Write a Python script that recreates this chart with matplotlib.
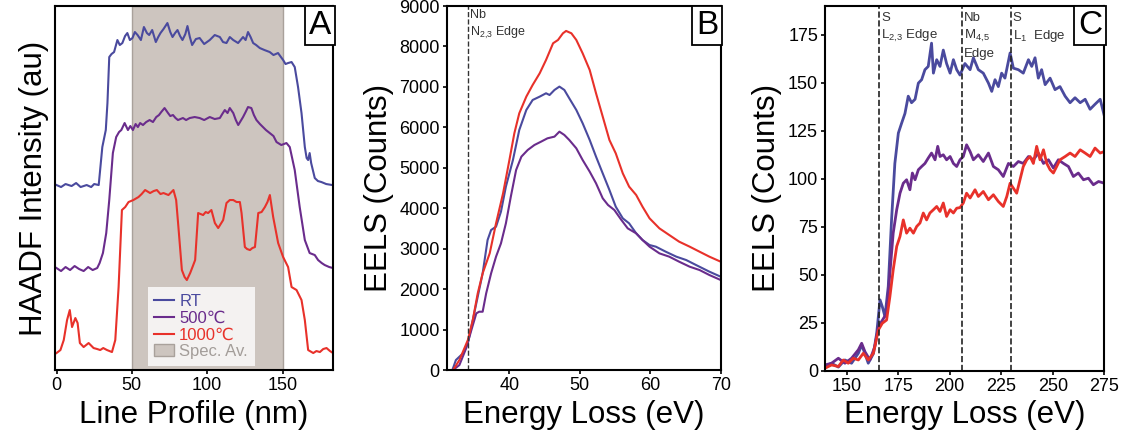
import numpy as np
import matplotlib
matplotlib.use("Agg")
import matplotlib.pyplot as plt

plt.rcParams['font.family'] = ['Liberation Sans', 'DejaVu Sans']
plt.rcParams['mathtext.fontset'] = 'custom'
plt.rcParams['mathtext.rm'] = 'Liberation Sans'

# ---- Panel A: HAADF line profiles (au) ----
a_rt_x = [0, 3, 6, 10, 13, 16, 20, 23, 25, 28, 30.4, 32.7, 33.8, 35, 36.5, 38.2, 40.4, 42, 43.7, 45.5, 47,
          48.7, 50.4, 52, 53.8, 56, 58, 60, 61.5, 63.5, 65.9, 67.5, 69, 71, 73.6, 75.5, 77, 78.7, 80.3, 82,
          83.6, 85.5, 86.9, 88.5, 90, 92.5, 95, 98, 101.7, 105, 108.4, 110.5, 112.8, 115, 117.3, 120.5,
          123.8, 125.5, 127.1, 128.8, 130.5, 132.5, 134.9, 138, 141.5, 144, 147, 150.4, 152, 153.7, 156,
          158.1, 160.3, 162.6, 164.8, 166, 167, 168, 169, 171.4, 173.5, 175.8, 179, 183]
a_rt_y = [185, 183, 186, 184, 187, 183, 185, 183, 186, 185, 223, 240, 267, 313, 316, 318, 330, 325, 327, 334, 337,
          330, 332, 338, 335, 330, 343, 337, 335, 340, 328, 333, 337, 341, 347, 338, 333, 337, 340, 334,
          330, 336, 344, 333, 325, 331, 332, 326, 330, 335, 333, 328, 327, 333, 330, 327,
          333, 330, 338, 333, 327, 325, 322, 320, 318, 315, 317, 310, 306, 307, 308,
          303, 283, 257, 223, 212, 210, 217, 207, 192, 189, 188, 186, 185]

a_500_x = [0, 3, 6, 9, 12, 15, 18, 21, 24, 27, 28.6, 30.8, 33, 35, 37.4, 39.6, 41.5, 43, 45.2, 47.4, 49,
           50.7, 52.5, 54, 55.5, 57.4, 59.5, 61.8, 64, 66.2, 68, 69.5, 71.7, 74, 75.5, 77.3, 79, 80.6,
           83.9, 86, 88.4, 91.7, 95, 98, 101.7, 105, 108.4, 110, 111.7, 113.5, 115, 117.3, 119, 120.6,
           123.8, 125.5, 127.1, 129.3, 131, 132.7, 135, 137, 139, 141.5, 144, 146, 149.2, 152.6, 154.8,
           158.1, 161.4, 164.8, 168, 171.4, 173.6, 176, 178, 181, 183.5]
a_500_y = [102, 99, 103, 100, 104, 101, 99, 103, 100, 102, 107, 117, 137, 170, 217, 233, 238, 240, 247, 240, 244,
           240, 246, 243, 247, 245, 248, 250, 248, 253, 255, 258, 262, 257, 254, 255, 252, 250,
           252, 250, 252, 253, 252, 250, 253, 251, 252, 256, 260, 257, 262, 257, 250, 245,
           253, 258, 263, 262, 255, 250, 246, 243, 240, 237, 234, 228, 225, 227, 223,
           200, 163, 130, 117, 115, 110, 107, 105, 103, 102]

a_1000_x = [0, 2.6, 4.8, 7, 8.8, 10.3, 12.5, 14, 15.5, 18, 21.3, 24.6, 27, 29, 31, 33.5, 36.8, 39, 41.2,
            43.4, 45.6, 47.8, 51, 54.4, 56.5, 58.8, 62.1, 64.5, 66.6, 69, 71, 74.3, 77.6, 79.4, 80.9, 83.2,
            85, 86.5, 88.7, 90.5, 92, 94, 97.3, 99, 100.6, 102.8, 105.1, 107.3, 110.6, 112.8, 115, 117.3,
            119.5, 121.7, 122.8, 125, 126.5, 128.4, 130, 131.7, 133.9, 136.1, 138.3, 140, 141.6, 143.8,
            147.1, 150.4, 153.7, 156, 159.3, 162.6, 164.8, 167, 170.4, 172.5, 174.8, 177, 179.2, 181.5, 183.5]
a_1000_y = [17, 20, 30, 50, 60, 43, 52, 47, 27, 23, 27, 22, 21, 20, 22, 20, 18, 30, 83,
            160, 163, 168, 170, 173, 176, 180, 177, 179, 180, 176, 177, 175, 180, 170, 143, 100,
            93, 90, 97, 104, 110, 157, 155, 158, 157, 160, 147, 142, 150, 167, 170, 170,
            168, 168, 157, 123, 121, 120, 122, 123, 157, 158, 163, 168, 175, 153,
            127, 113, 103, 83, 80, 70, 50, 20, 17, 19, 18, 21, 22, 19, 17]

# ---- Panel B: Nb N2,3 edge EELS (counts) ----
b_rt_x = [31.9, 32.4, 33.4, 34.1, 34.8, 35.5, 36.2, 36.9, 37.4, 38.1, 38.8, 39.5, 40.5, 41.4, 42.4, 43.3,
          44.3, 45.2, 45.7, 46.4, 47.1, 47.8, 48.5, 49.5, 50.4, 51.4, 52.3, 53.25, 54.2, 55.1, 56.1, 57.0,
          58.0, 58.9, 59.9, 60.8, 62.2, 63.7, 65.1, 66.5, 68.4, 70]
b_rt_y = [0, 247, 412, 660, 1237, 1814, 2391, 3215, 3462, 3545, 3916, 4534, 5193, 5935, 6430, 6677,
          6760, 6843, 6800, 6925, 7008, 6925, 6719, 6430, 6101, 5688, 5276, 4863, 4452, 4039, 3751, 3627,
          3380, 3215, 3091, 3050, 2926, 2803, 2720, 2597, 2432, 2308]
b_500_x = [32.0, 32.9, 33.85, 34.6, 35.3, 35.7, 36.2, 36.7, 37.4, 38.1, 38.8, 39.5, 40.2, 40.95, 41.7,
           42.6, 43.55, 44.5, 45.4, 46.4, 47.1, 47.8, 48.5, 49.5, 50.4, 51.4, 52.3, 53.25, 54.0, 54.9,
           55.9, 56.8, 58.0, 58.9, 59.9, 61.3, 62.7, 64.1, 65.6, 67.0, 68.4, 70]
b_500_y = [0, 124, 536, 989, 1401, 1442, 1442, 1896, 2391, 2803, 3132, 3627, 4287, 4946, 5276,
           5441, 5564, 5647, 5729, 5771, 5894, 5812, 5688, 5482, 5193, 4905, 4617, 4246, 4081, 3957,
           3710, 3503, 3380, 3215, 3050, 2885, 2803, 2679, 2555, 2473, 2349, 2226]
b_1000_x = [32.0, 32.9, 34.1, 34.8, 35.5, 36.2, 37.2, 38.1, 39.1, 40.0, 40.7, 41.4, 42.4, 43.3, 44.3,
            45.2, 46.2, 46.9, 47.6, 48.05, 48.8, 49.5, 50.4, 51.4, 52.3, 53.25, 54.2, 55.1, 56.1, 57.0,
            58.0, 58.9, 59.9, 61.3, 62.7, 64.1, 65.6, 67.0, 68.4, 70]
b_1000_y = [0, 247, 742, 1237, 1896, 2391, 2885, 3627, 4369, 5193, 5853, 6348, 6760, 7048, 7337,
            7666, 8079, 8161, 8326, 8384, 8326, 8161, 7831, 7419, 6843, 6266, 5688, 5358, 4863, 4534,
            4328, 4039, 3751, 3503, 3338, 3174, 3050, 2926, 2803, 2679]

# ---- Panel C: S L edges / Nb M4,5 EELS (counts) ----
c_rt_x = [139.5, 142.7, 146, 149.2, 152.4, 155.7, 157.3, 158.9, 160.5, 163, 164.6, 166.2, 167.3, 168.6,
          170.2, 171.8, 173.4, 175.1, 176.7, 178.3, 179.9, 181.5, 183.2, 184.8, 186.4, 188, 189.6, 191.2,
          192.1, 193.7, 195.3, 196.9, 198.5, 200.2, 201.8, 203.4, 205, 207.4, 209.9, 211.5, 213.9, 216.3,
          218.8, 220.4, 222, 223.6, 225.2, 226.8, 229.3, 230.9, 233.3, 235.7, 238.2, 239.8, 241.4, 243,
          244.6, 246.3, 248.7, 251.1, 253.5, 256, 258.4, 260.8, 263.3, 265.7, 268.1, 270.5, 273, 275]
c_rt_y = [2.3, 4, 2, 5.7, 4, 9.2, 13.5, 9, 4, 9, 19.6, 37, 33.5, 28.3,
          44, 78.6, 108, 123.8, 129, 134, 143, 139.6, 141.4, 149.8, 151.6, 156.8, 158.5, 170.6,
          155, 162, 158.5, 167, 160, 155, 162, 156.8, 154, 160, 156.8, 163, 156.8, 155,
          149.8, 145.5, 151.6, 148, 155, 152.4, 165.5, 157.6, 156.8, 155, 162, 158.5, 163, 152.4,
          156.8, 149, 152.4, 146.4, 148, 143, 139.6, 142.2, 139.6, 141.4, 136.2, 138.8, 141.4, 132.8]
c_500_x = [139.5, 142.7, 146, 149.2, 152.4, 155.7, 157.3, 158.9, 161.3, 163.7, 165.4, 167.3, 169.4, 171,
           172.6, 174.3, 175.9, 177.5, 179.1, 180.7, 181.9, 183.2, 184.8, 186.4, 188, 189.6, 191.2, 192.9,
           194.2, 195.3, 196.9, 198.5, 200.2, 201.8, 203.4, 205, 206.6, 208.2, 209.9, 211.5, 213.9, 216.3,
           218.8, 221.2, 223.6, 226, 228.5, 230.9, 233.3, 235.7, 238.2, 240.6, 243, 245.5, 247.9, 250.3,
           252.7, 255.2, 257.6, 260, 262.4, 264.9, 267.3, 269.7, 272.2, 275]
c_500_y = [3.1, 4, 6.6, 4, 6.6, 11, 14.4, 10, 5.7, 12.7, 23, 26.3, 30, 50.9,
           71.7, 83.9, 92.5, 97.7, 99.5, 94.3, 103, 99.5, 104.7, 106.4, 108, 110.8, 113.4, 109.9,
           116.9, 111.6, 112.5, 109.9, 111.6, 108, 106.4, 109.9, 111.6, 117.7, 114.2, 109.9, 112.5, 109,
           113.4, 106.4, 104.7, 101.2, 108, 106.4, 109, 108, 111.6, 109.9, 113.4, 108, 109.9, 105.6,
           109.9, 108, 106.4, 101.2, 103, 99.5, 100.3, 96.9, 98.6, 97.7]
c_1000_x = [139.5, 142.7, 146, 148.4, 150.8, 153.2, 155.7, 158.1, 160.5, 163, 165.4, 167.3, 169.4, 171,
            172.6, 174.3, 175.9, 177.5, 179.1, 180.7, 182.4, 184, 185.6, 187.2, 188.8, 190.4, 192.1, 193.7,
            195.3, 196.9, 198.5, 200.2, 201.8, 203.4, 205, 206.6, 208.2, 209.9, 212.3, 213.9, 216.3, 218.8,
            221.2, 223.6, 226, 227.7, 229.3, 230.9, 232.5, 234.1, 235.7, 237.4, 239, 240.6, 242.2, 243.8,
            245.5, 247.1, 248.7, 250.3, 251.9, 253.5, 256, 258.4, 260.8, 263.3, 265.7, 268.1, 270.5, 273, 275]
c_1000_y = [1.4, 3.1, 2.3, 5.7, 4, 6.6, 5.7, 9.2, 5.7, 9.2, 21.3, 24.8, 26.5, 38.7,
            52.6, 64.8, 70, 78.6, 71.7, 74.3, 71.7, 75.2, 77, 82.2, 78.6, 82.2, 83.9, 85.6,
            83, 87.4, 80.4, 83.9, 82.2, 84.7, 85, 87.4, 92.5, 90, 94.3, 90.8, 93.4, 89.1,
            91.7, 88.2, 85.6, 90.8, 97.7, 95.1, 92.5, 99.5, 106.4, 109.9, 111.6, 108, 116.9, 109.9,
            115.1, 108, 104.7, 103, 106.4, 109.9, 111.6, 113.4, 111.6, 115.1, 113.4, 111.6, 116, 113.4, 114.2]

labels = ['RT', '500\u2103', '1000\u2103']
colors = ['#4a4a9e', '#6a2c8c', '#e8312a']
b_edge = 34.1
c_edges = [165.8, 205.8, 229.6]

fig = plt.figure(figsize=(11.25, 4.4), dpi=100)
axA = fig.add_axes([0.0489, 0.159, 0.2471, 0.8273])
axB = fig.add_axes([0.3971, 0.159, 0.2435, 0.8273])
axC = fig.add_axes([0.7333, 0.157, 0.2483, 0.8296])

for ax in (axA, axB, axC):
    for s in ax.spines.values():
        s.set_linewidth(1.5)
    ax.tick_params(direction='out', length=3, width=1.2, labelsize=13, pad=2)

# Panel A
span = axA.axvspan(50, 150, facecolor='#cdc5bf', edgecolor='#a9a19b', lw=1, label='Spec. Av.')
axA.plot(a_rt_x, a_rt_y, color=colors[0], lw=1.5, label=labels[0])
axA.plot(a_500_x, a_500_y, color=colors[1], lw=1.5, label=labels[1])
axA.plot(a_1000_x, a_1000_y, color=colors[2], lw=1.5, label=labels[2])
axA.set_xlim(-1, 183.5)
axA.set_ylim(0, 364)
axA.set_yticks([])
axA.set_xticks([0, 50, 100, 150])
axA.set_xlabel('Line Profile (nm)', fontsize=22.5)
axA.set_ylabel('HAADF Intensity (au)', fontsize=22.5)
h, l = axA.get_legend_handles_labels()
order = [1, 2, 3, 0]
leg = axA.legend([h[i] for i in order], [l[i] for i in order], loc='lower left',
                 bbox_to_anchor=(0.333, 0.012), borderaxespad=0, fontsize=12,
                 labelspacing=0.1, handlelength=1.2, handletextpad=0.3,
                 fancybox=False, framealpha=0.9, facecolor='#f9f8f7', edgecolor='none')
for t, c in zip(leg.get_texts(), colors + ['#a39d99']):
    t.set_color(c)

# Panel B
axB.plot(b_rt_x, b_rt_y, color=colors[0], lw=1.5)
axB.plot(b_500_x, b_500_y, color=colors[1], lw=1.5)
axB.plot(b_1000_x, b_1000_y, color=colors[2], lw=1.5)
axB.axvline(b_edge, color='#333333', ls='--', lw=1)
axB.set_xlim(31.1, 70)
axB.set_ylim(0, 9000)
axB.set_xticks([40, 50, 60, 70])
axB.set_yticks(range(0, 9001, 1000))
axB.set_xlabel('Energy Loss (eV)', fontsize=22.5)
axB.set_ylabel('EELS (Counts)', fontsize=22.5)
axB.text(b_edge + 0.3, 8930, 'Nb\nN$_{2,\\!3}$ Edge', fontsize=9, va='top', color='#333333', linespacing=1.4)

# Panel C
axC.plot(c_rt_x, c_rt_y, color=colors[0], lw=2)
axC.plot(c_500_x, c_500_y, color=colors[1], lw=2)
axC.plot(c_1000_x, c_1000_y, color=colors[2], lw=2)
for e in c_edges:
    axC.axvline(e, color='#222222', ls='--', lw=1.2)
axC.set_xlim(139.5, 275)
axC.set_ylim(0, 190)
axC.set_xticks(range(150, 276, 25))
axC.set_yticks(range(0, 176, 25))
axC.set_xlabel('Energy Loss (eV)', fontsize=22.5)
axC.set_ylabel('EELS (Counts)', fontsize=22.5)
edge_txt = ['S\nL$_{2,\\!3}$ Edge', 'Nb\nM$_{4,\\!5}$\nEdge', 'S\nL$_{1}$  Edge']
for e, t in zip(c_edges, edge_txt):
    axC.text(e + 1.0, 187, t, fontsize=9.5, va='top', color='#333333', linespacing=1.4)

for ax, lab in zip((axA, axB, axC), 'ABC'):
    ax.text(0.992, 0.988, lab, transform=ax.transAxes, ha='right', va='top', fontsize=24,
            bbox=dict(boxstyle='square,pad=0.12', fc='white', ec='black', lw=1.3), zorder=5)

fig.savefig('out.png', dpi=100)
